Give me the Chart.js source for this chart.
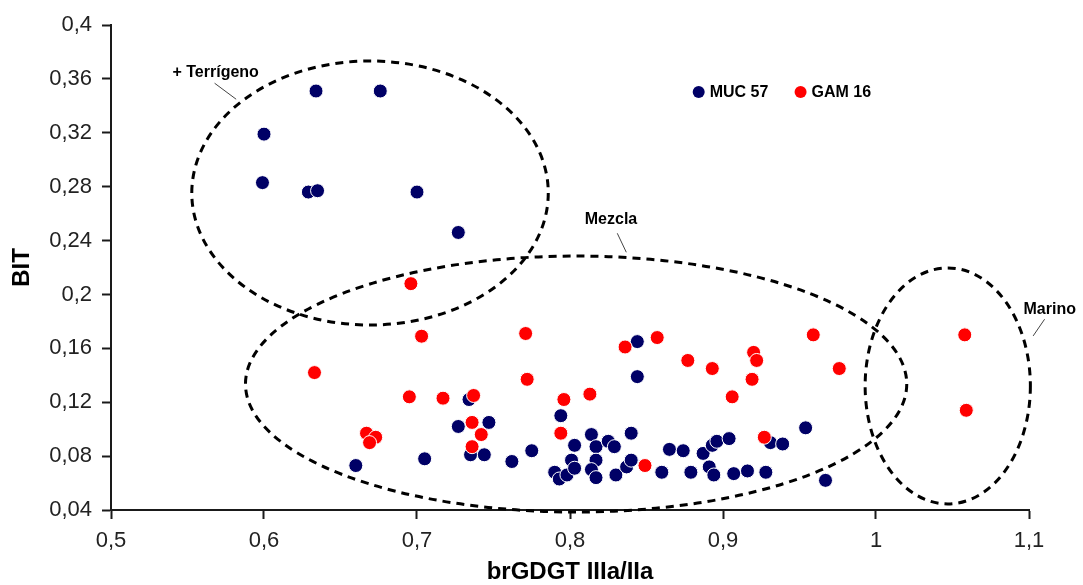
<!DOCTYPE html>
<html>
<head>
<meta charset="utf-8">
<script src="https://cdn.jsdelivr.net/npm/chart.js@4"></script>
<style>
  body { margin: 0; background: #fff; }
  canvas { display: block; }
</style>
</head>
<body>
<canvas id="bitChart" width="1083" height="585"></canvas>
<script>
const seriesNames = ['MUC 57', 'GAM 16'];

const mucX = [0.634, 0.676, 0.600, 0.599, 0.629, 0.635, 0.700, 0.727,
  0.660, 0.705, 0.734, 0.727, 0.747, 0.735, 0.744, 0.762, 0.775, 0.794, 0.790, 0.793, 0.798,
  0.844, 0.844, 0.814, 0.803, 0.817, 0.825, 0.829, 0.840, 0.801, 0.803, 0.817, 0.814, 0.817,
  0.830, 0.837, 0.840, 0.865, 0.874, 0.860, 0.879, 0.887, 0.893, 0.896, 0.904, 0.891, 0.894,
  0.907, 0.916, 0.928, 0.931, 0.939, 0.954, 0.967];
const mucY = [0.351, 0.351, 0.319, 0.283, 0.276, 0.277, 0.276, 0.246,
  0.073, 0.078, 0.122, 0.102, 0.105, 0.081, 0.081, 0.076, 0.084, 0.110, 0.068, 0.063, 0.066,
  0.165, 0.139, 0.096, 0.088, 0.087, 0.091, 0.087, 0.097, 0.077, 0.071, 0.077, 0.070, 0.064,
  0.066, 0.072, 0.077, 0.085, 0.084, 0.068, 0.068, 0.082, 0.088, 0.091, 0.093, 0.072, 0.066,
  0.067, 0.069, 0.068, 0.090, 0.089, 0.101, 0.062];

const gamX = [0.696, 0.633, 0.703, 0.771, 0.772, 0.695, 0.717, 0.737, 0.736, 0.742, 0.736,
  0.667, 0.673, 0.669, 0.796, 0.794, 0.836, 0.857, 0.813, 0.877, 0.893, 0.920, 0.922, 0.919,
  0.906, 0.927, 0.849, 0.959, 0.976, 1.058, 1.059];
const gamY = [0.208, 0.142, 0.169, 0.171, 0.137, 0.124, 0.123, 0.125, 0.105, 0.096, 0.087,
  0.097, 0.094, 0.090, 0.122, 0.097, 0.161, 0.168, 0.126, 0.151, 0.145, 0.157, 0.151, 0.137,
  0.124, 0.094, 0.073, 0.170, 0.145, 0.170, 0.114];

const xTickValues = [0.5, 0.6, 0.7, 0.8, 0.9, 1.0, 1.1];
const yTickValues = [0.04, 0.08, 0.12, 0.16, 0.2, 0.24, 0.28, 0.32, 0.36, 0.4];

const FONT = 'Liberation Sans, Arial, sans-serif';
const colors = ['#000066', '#ff0000'];

// dashed zones drawn in data units
const zones = [
  { name: '+ Terrígeno', cx: 0.6693, cy: 0.2753, rx: 0.1165, ry: 0.098,
    text: [0.5684, 0.3647], lead: [[0.5677, 0.3568], [0.5818, 0.3449]], align: 'center' },
  { name: 'Mezcla', cx: 0.804, cy: 0.1335, rx: 0.2161, ry: 0.095,
    text: [0.8268, 0.2553], lead: [[0.8309, 0.2454], [0.8368, 0.2313]], align: 'center' },
  { name: 'Marino', cx: 1.0469, cy: 0.1321, rx: 0.054, ry: 0.0876,
    text: [1.0964, 0.1885], lead: [[1.1102, 0.1816], [1.1027, 0.1692]], align: 'left' }
];
const legendPos = [[0.8841, 0.3503], [0.9507, 0.3503]];

const fmt = v => String(+Number(v).toFixed(2)).replace('.', ',');

const zonePlugin = {
  id: 'zones',
  afterDatasetsDraw(chart) {
    const { ctx, scales: { x, y } } = chart;
    ctx.save();
    ctx.strokeStyle = '#000';
    ctx.lineWidth = 3;
    ctx.setLineDash([8, 6]);
    zones.forEach(z => {
      const cx = x.getPixelForValue(z.cx);
      const cy = y.getPixelForValue(z.cy);
      const rx = Math.abs(x.getPixelForValue(z.cx + z.rx) - cx);
      const ry = Math.abs(y.getPixelForValue(z.cy + z.ry) - cy);
      ctx.beginPath();
      ctx.ellipse(cx, cy, rx, ry, 0, 0, Math.PI * 2);
      ctx.stroke();
    });
    ctx.setLineDash([]);
    ctx.lineWidth = 1;
    ctx.strokeStyle = '#444';
    ctx.fillStyle = '#000';
    ctx.font = 'bold 16px ' + FONT;
    ctx.textBaseline = 'middle';
    zones.forEach(z => {
      ctx.textAlign = z.align;
      ctx.fillText(z.name, x.getPixelForValue(z.text[0]), y.getPixelForValue(z.text[1]));
      ctx.beginPath();
      ctx.moveTo(x.getPixelForValue(z.lead[0][0]), y.getPixelForValue(z.lead[0][1]));
      ctx.lineTo(x.getPixelForValue(z.lead[1][0]), y.getPixelForValue(z.lead[1][1]));
      ctx.stroke();
    });
    // legend
    ctx.textAlign = 'left';
    chart.data.datasets.forEach((ds, i) => {
      const px = x.getPixelForValue(legendPos[i][0]);
      const py = y.getPixelForValue(legendPos[i][1]);
      ctx.fillStyle = ds.backgroundColor;
      ctx.beginPath();
      ctx.arc(px, py, 6, 0, Math.PI * 2);
      ctx.fill();
      ctx.fillStyle = '#000';
      ctx.fillText(ds.label, px + 11, py + 1);
    });
    ctx.restore();
  }
};

const toPoints = (xs, ys) => xs.map((v, i) => ({ x: v, y: ys[i] }));

const axisCommon = {
  grid: { display: true, drawOnChartArea: false, drawTicks: true, tickLength: 9, tickColor: '#1a1a1a', tickWidth: 2 },
  border: { display: true, color: '#1a1a1a', width: 2 },
};

new Chart(document.getElementById('bitChart').getContext('2d'), {
  type: 'scatter',
  data: {
    datasets: [
      { label: seriesNames[0], data: toPoints(mucX, mucY), backgroundColor: colors[0],
        borderColor: '#ffffff', borderWidth: 1, pointRadius: 7, order: 1 },
      { label: seriesNames[1], data: toPoints(gamX, gamY), backgroundColor: colors[1],
        borderColor: '#ffffff', borderWidth: 1, pointRadius: 7, order: 0 }
    ]
  },
  options: {
    responsive: false,
    animation: false,
    layout: { padding: { left: 0, right: 54, top: 25, bottom: 0 } },
    scales: {
      x: {
        ...axisCommon,
        type: 'linear',
        min: 0.5, max: 1.1,
        afterBuildTicks: s => { s.ticks = xTickValues.map(v => ({ value: v })); },
        afterFit: s => { s.height = 75; },
        ticks: { color: '#222', padding: 9, font: { family: FONT, size: 22 }, callback: fmt },
        title: { display: true, text: 'brGDGT IIIa/IIa', color: '#000',
          font: { family: FONT, size: 24, weight: 'bold' }, padding: { top: 4, bottom: -2 } }
      },
      y: {
        ...axisCommon,
        type: 'linear',
        min: 0.04, max: 0.4,
        afterBuildTicks: s => { s.ticks = yTickValues.map(v => ({ value: v })); },
        afterFit: s => { s.width = 111; },
        ticks: { color: '#222', padding: 10, font: { family: FONT, size: 22 }, callback: fmt },
        title: { display: true, text: 'BIT', color: '#000',
          font: { family: FONT, size: 24, weight: 'bold' }, padding: { top: 8, bottom: 4 } }
      }
    },
    plugins: {
      legend: { display: false },
      tooltip: { enabled: false }
    }
  },
  plugins: [zonePlugin]
});
</script>
</body>
</html>
